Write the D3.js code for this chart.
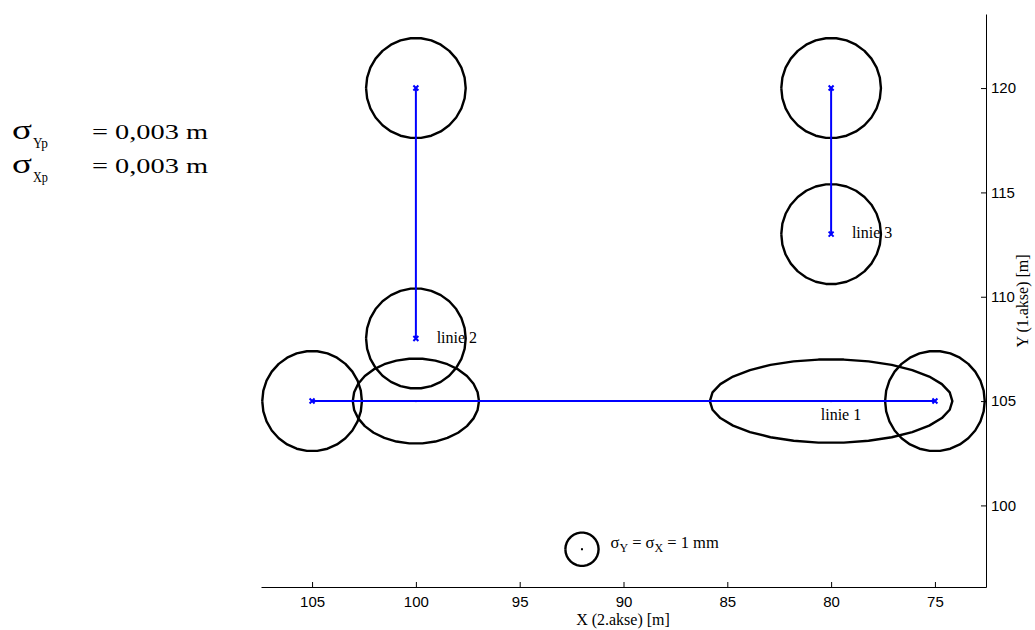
<!DOCTYPE html>
<html>
<head>
<meta charset="utf-8">
<script src="https://cdn.jsdelivr.net/npm/d3@7"></script>
<style>
  html, body { margin: 0; padding: 0; background: #fff; }
  svg { display: block; }
  .tick text { font-family: "Liberation Sans", Arial, sans-serif; font-size: 15px; fill: #000; }
  .serif { font-family: "Liberation Serif", "Times New Roman", serif; fill: #000; }
</style>
</head>
<body>
<svg id="chart" width="1035" height="630"></svg>
<script>
// Axis limits (metres) and tick values
const xDomain = [107.46, 72.54];   // X (2.akse) runs right-to-left
const yDomain = [96.09, 123.55];
const xTicks = [105, 100, 95, 90, 85, 80, 75];
const yTicks = [100, 105, 110, 115, 120];

// Measured lines: start and end points
const lineNames  = ["linie 1", "linie 2", "linie 3"];
const lineStartX = [105, 100, 80];
const lineStartY = [105, 120, 120];
const lineEndX   = [75, 100, 80];
const lineEndY   = [105, 108, 113];
const labelX     = [80.5, 99, 79];
const labelY     = [104.1, 107.8, 112.8];

// Error ellipses: centre (m) and standard deviations (mm)
const ellipseX  = [105, 75, 100, 80, 100, 100, 80, 80];
const ellipseY  = [105, 105, 105, 105, 120, 108, 120, 113];
const ellipseSX = [3.0, 3.0, 3.8, 7.3, 3.0, 3.0, 3.0, 3.0];
const ellipseSY = [3.0, 3.0, 2.55, 2.5, 3.0, 3.0, 3.0, 3.0];

// Scale circle for the ellipses (1 mm)
const legendX = 92, legendY = 97.9, legendSigma = 1.0;
const mmToPlot = 0.8;   // plotted metres per mm of standard deviation

const svg = d3.select("#chart");
const x = d3.scaleLinear().domain(xDomain).range([261, 986]);
const y = d3.scaleLinear().domain(yDomain).range([587, 14]);

// Axes: bottom and right, ticks pointing inward
svg.append("g")
  .attr("transform", "translate(0,587)")
  .call(d3.axisBottom(x).tickValues(xTicks).tickSizeInner(-5).tickSizeOuter(0).tickPadding(9.5));
svg.append("g")
  .attr("transform", "translate(986,0)")
  .call(d3.axisRight(y).tickValues(yTicks).tickSizeInner(-5).tickSizeOuter(0).tickPadding(5));
svg.selectAll(".domain, .tick line").attr("stroke", "#000").attr("stroke-width", 1);

svg.append("text").attr("class", "serif")
  .attr("x", 623).attr("y", 625).attr("text-anchor", "middle").attr("font-size", 16)
  .text("X (2.akse) [m]");
svg.append("text").attr("class", "serif")
  .attr("transform", "translate(1028,301) rotate(-90)")
  .attr("text-anchor", "middle").attr("font-size", 16)
  .text("Y (1.akse) [m]");

// Ellipse outline as a coarse polygon
const seg = 30;
function ellipsePath(cx, cy, sx, sy) {
  const pts = d3.range(seg + 1).map(i => {
    const t = 2 * Math.PI * i / seg;
    return [x(cx + sx * mmToPlot * Math.cos(t)), y(cy + sy * mmToPlot * Math.sin(t))];
  });
  return d3.line()(pts);
}

const ellipses = d3.range(ellipseX.length);
svg.append("g").selectAll("path").data(ellipses).join("path")
  .attr("d", i => ellipsePath(ellipseX[i], ellipseY[i], ellipseSX[i], ellipseSY[i]))
  .attr("fill", "none").attr("stroke", "#000").attr("stroke-width", 2.4)
  .attr("stroke-linejoin", "round");

// Ellipse centres
svg.append("g").selectAll("rect").data(ellipses).join("rect")
  .attr("x", i => x(ellipseX[i]) - 1).attr("y", i => y(ellipseY[i]) - 1)
  .attr("width", 2).attr("height", 2).attr("fill", "#000");

// Lines
const lines = d3.range(lineNames.length);
svg.append("g").selectAll("line").data(lines).join("line")
  .attr("x1", i => x(lineStartX[i])).attr("y1", i => y(lineStartY[i]))
  .attr("x2", i => x(lineEndX[i])).attr("y2", i => y(lineEndY[i]))
  .attr("stroke", "#0000ff").attr("stroke-width", 2);

// End point markers (x)
const endPts = lines.flatMap(i => [[lineStartX[i], lineStartY[i]], [lineEndX[i], lineEndY[i]]]);
svg.append("g").selectAll("path").data(endPts).join("path")
  .attr("transform", d => `translate(${x(d[0])},${y(d[1])})`)
  .attr("d", "M-2.5,-2.5L2.5,2.5M-2.5,2.5L2.5,-2.5")
  .attr("stroke", "#0000ff").attr("stroke-width", 2);

// Line labels
svg.append("g").selectAll("text").data(lines).join("text")
  .attr("class", "serif").attr("font-size", 16)
  .attr("x", i => x(labelX[i])).attr("y", i => y(labelY[i]))
  .text(i => lineNames[i]);

// Scale circle legend
svg.append("path")
  .attr("d", ellipsePath(legendX, legendY, legendSigma, legendSigma))
  .attr("fill", "none").attr("stroke", "#000").attr("stroke-width", 2.4);
svg.append("rect")
  .attr("x", x(legendX) - 1).attr("y", y(legendY) - 1)
  .attr("width", 2).attr("height", 2).attr("fill", "#000");
const lt = svg.append("text").attr("class", "serif").attr("font-size", 16.5)
  .attr("x", x(legendX) + 28.5).attr("y", y(legendY) - 1);
lt.append("tspan").text("σ");
lt.append("tspan").attr("font-size", 12).attr("dy", 4).text("Y");
lt.append("tspan").attr("dy", -4).text(" = σ");
lt.append("tspan").attr("font-size", 12).attr("dy", 4).text("X");
lt.append("tspan").attr("dy", -4).text(" = 1 mm");

// Point standard deviations
const sigmaSubs = ["Yp", "Xp"];
const sigmaVals = ["= 0,003 m", "= 0,003 m"];
sigmaSubs.forEach((s, i) => {
  const base = 139 + i * 34;
  svg.append("text").attr("class", "serif").attr("font-size", 28)
    .attr("x", 12).attr("y", base).attr("textLength", 20).attr("lengthAdjust", "spacingAndGlyphs")
    .text("σ");
  svg.append("text").attr("class", "serif").attr("font-size", 14)
    .attr("x", 33).attr("y", base + 9).attr("textLength", 15).attr("lengthAdjust", "spacingAndGlyphs")
    .text(s);
  svg.append("text").attr("class", "serif").attr("font-size", 22)
    .attr("x", 92).attr("y", base).attr("textLength", 116).attr("lengthAdjust", "spacingAndGlyphs")
    .text(sigmaVals[i]);
});
</script>
</body>
</html>
